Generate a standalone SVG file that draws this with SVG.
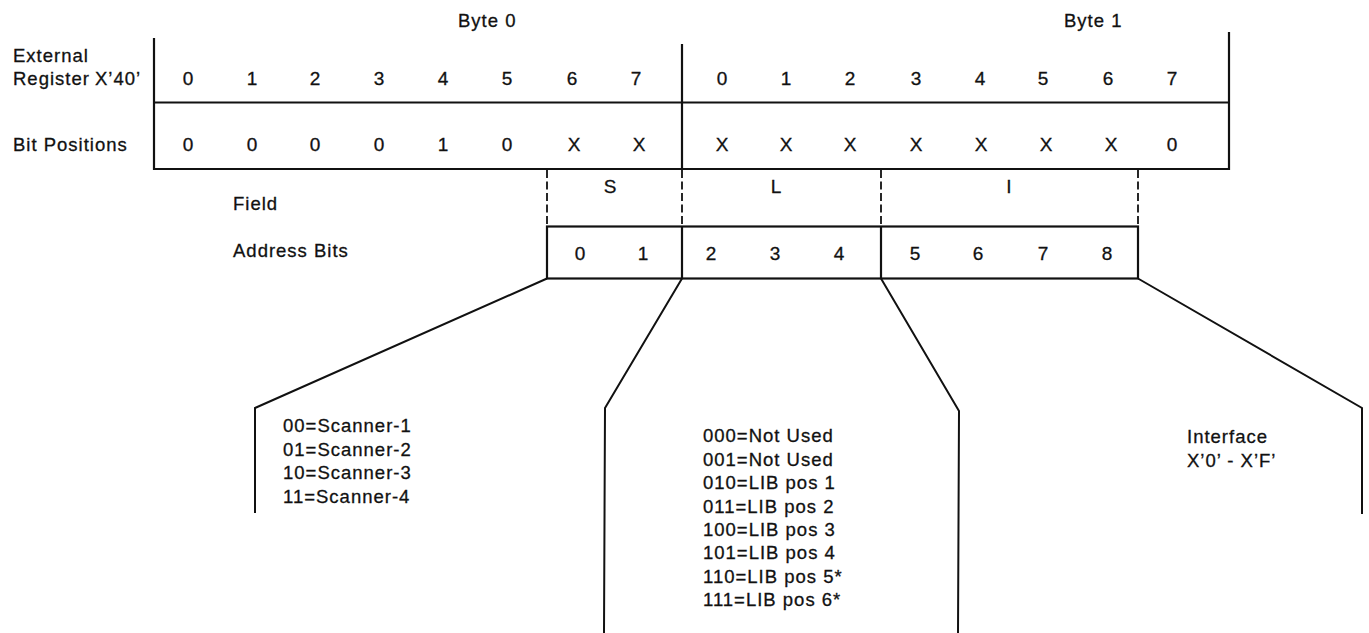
<svg xmlns="http://www.w3.org/2000/svg" width="1369" height="633" viewBox="0 0 1369 633">
  <style>
    text { font-family: "Liberation Sans", Arial, sans-serif; fill: #111; stroke: #111; stroke-width: 0.3; }
    .lbl { font-size: 18.5px; letter-spacing: 1px; }
    .bit { font-size: 19px; text-anchor: middle; }
    .frame { stroke: #111; stroke-width: 2.2; fill: none; }
    .thin { stroke: #111; stroke-width: 2; fill: none; }
    .dash { stroke: #111; stroke-width: 1.8; fill: none; stroke-dasharray: 8 3.5; }
  </style>
  <rect width="1369" height="633" fill="#fff"/>

  <!-- External register X'40': two bytes of eight bits -->
  <g id="register">
    <text class="lbl" x="458" y="27">Byte 0</text>
    <text class="lbl" x="1064" y="27">Byte 1</text>
    <text class="lbl" x="13" y="62">External</text>
    <text class="lbl" x="13" y="85">Register<tspan x="95">X’40’</tspan></text>
    <text class="lbl" x="13" y="151">Bit Positions</text>

    <line class="frame" x1="154" y1="38" x2="154" y2="170"/>
    <line class="frame" x1="682" y1="44" x2="682" y2="170"/>
    <line class="frame" x1="1229" y1="32" x2="1229" y2="170"/>
    <line class="frame" x1="154" y1="102.5" x2="1229" y2="102.5"/>
    <line class="frame" x1="154" y1="169" x2="1229" y2="169"/>

    <g class="bits">
      <text class="bit" x="188" y="85">0</text>
      <text class="bit" x="252" y="85">1</text>
      <text class="bit" x="315" y="85">2</text>
      <text class="bit" x="379" y="85">3</text>
      <text class="bit" x="443" y="85">4</text>
      <text class="bit" x="507" y="85">5</text>
      <text class="bit" x="572" y="85">6</text>
      <text class="bit" x="636" y="85">7</text>
      <text class="bit" x="722" y="85">0</text>
      <text class="bit" x="786" y="85">1</text>
      <text class="bit" x="850" y="85">2</text>
      <text class="bit" x="916" y="85">3</text>
      <text class="bit" x="980" y="85">4</text>
      <text class="bit" x="1043" y="85">5</text>
      <text class="bit" x="1108" y="85">6</text>
      <text class="bit" x="1172" y="85">7</text>

      <text class="bit" x="188" y="151">0</text>
      <text class="bit" x="252" y="151">0</text>
      <text class="bit" x="315" y="151">0</text>
      <text class="bit" x="379" y="151">0</text>
      <text class="bit" x="443" y="151">1</text>
      <text class="bit" x="507" y="151">0</text>
      <text class="bit" x="574" y="151">X</text>
      <text class="bit" x="639" y="151">X</text>
      <text class="bit" x="722" y="151">X</text>
      <text class="bit" x="786" y="151">X</text>
      <text class="bit" x="850" y="151">X</text>
      <text class="bit" x="916" y="151">X</text>
      <text class="bit" x="981" y="151">X</text>
      <text class="bit" x="1046" y="151">X</text>
      <text class="bit" x="1111" y="151">X</text>
      <text class="bit" x="1172" y="151">0</text>
    </g>
  </g>

  <!-- Field row: S, L and I spans -->
  <g id="field">
    <text class="lbl" x="233" y="210">Field</text>
    <line class="dash" x1="547" y1="170" x2="547" y2="226"/>
    <line class="dash" x1="682" y1="170" x2="682" y2="226"/>
    <line class="dash" x1="881" y1="170" x2="881" y2="226"/>
    <line class="dash" x1="1138" y1="170" x2="1138" y2="226"/>
    <text class="bit" x="610" y="193">S</text>
    <text class="bit" x="776" y="193">L</text>
    <text class="bit" x="1009" y="193">I</text>
  </g>

  <!-- Address bits 0-8 -->
  <g id="address-bits">
    <text class="lbl" x="233" y="257">Address Bits</text>
    <rect class="frame" x="547" y="226.5" width="591" height="52"/>
    <line class="frame" x1="682" y1="226.5" x2="682" y2="278.5"/>
    <line class="frame" x1="881" y1="226.5" x2="881" y2="278.5"/>
    <text class="bit" x="580" y="260">0</text>
    <text class="bit" x="643" y="260">1</text>
    <text class="bit" x="711" y="260">2</text>
    <text class="bit" x="775" y="260">3</text>
    <text class="bit" x="839" y="260">4</text>
    <text class="bit" x="915" y="260">5</text>
    <text class="bit" x="978" y="260">6</text>
    <text class="bit" x="1043" y="260">7</text>
    <text class="bit" x="1107" y="260">8</text>
  </g>

  <!-- Fan-out lines from the address fields to their decodes -->
  <g id="connectors">
    <polyline class="thin" points="547,278.5 255,408 255,513"/>
    <polyline class="thin" points="682,278.5 605,408 604,633"/>
    <polyline class="thin" points="881,278.5 959,411 958,633"/>
    <polyline class="thin" points="1138,278.5 1362,408 1362,514"/>
  </g>

  <!-- S field decode -->
  <g id="scanner-decode">
    <text class="lbl" x="283" y="432">00=Scanner-1</text>
    <text class="lbl" x="283" y="455.5">01=Scanner-2</text>
    <text class="lbl" x="283" y="479">10=Scanner-3</text>
    <text class="lbl" x="283" y="502.5">11=Scanner-4</text>
  </g>

  <!-- L field decode -->
  <g id="lib-decode">
    <text class="lbl" x="703" y="442">000=Not Used</text>
    <text class="lbl" x="703" y="465.5">001=Not Used</text>
    <text class="lbl" x="703" y="489">010=LIB pos 1</text>
    <text class="lbl" x="703" y="512.5">011=LIB pos 2</text>
    <text class="lbl" x="703" y="536">100=LIB pos 3</text>
    <text class="lbl" x="703" y="559">101=LIB pos 4</text>
    <text class="lbl" x="703" y="582.5">110=LIB pos 5*</text>
    <text class="lbl" x="703" y="606">111=LIB pos 6*</text>
  </g>

  <!-- I field decode -->
  <g id="interface-decode">
    <text class="lbl" x="1187" y="443">Interface</text>
    <text class="lbl" x="1187" y="467">X’0’ - X’F’</text>
  </g>
</svg>
